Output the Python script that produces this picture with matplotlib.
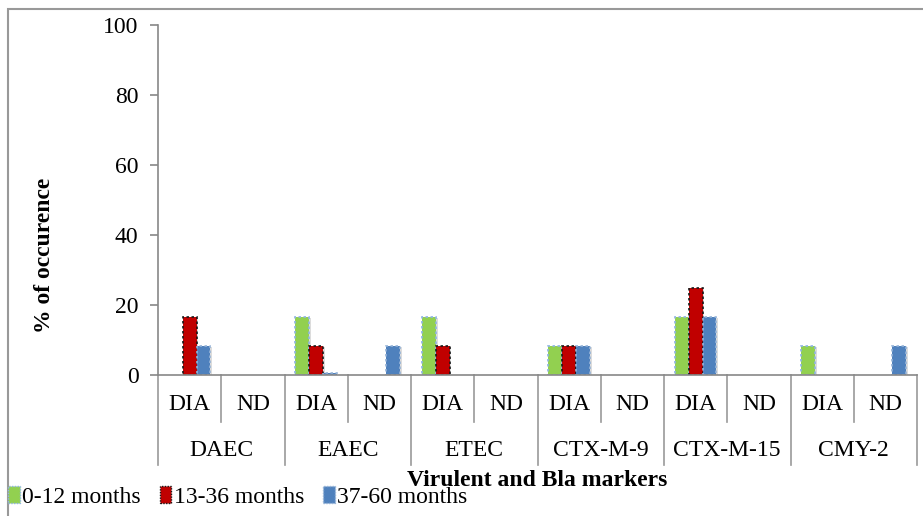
import matplotlib
matplotlib.use("Agg")
import matplotlib.pyplot as plt
import matplotlib.patches as mpatches
import numpy as np

plt.rcParams['font.family'] = ['Liberation Serif', 'DejaVu Serif']

groups = ["DAEC", "EAEC", "ETEC", "CTX-M-9", "CTX-M-15", "CMY-2"]
subcats = ["DIA", "ND"]
series_names = ["0-12 months", "13-36 months", "37-60 months"]
# values per (group, subcat) slot: DAEC-DIA, DAEC-ND, EAEC-DIA, ...
v_0_12 = [0, 0, 16.7, 0, 16.7, 0, 8.3, 0, 16.7, 0, 8.3, 0]
v_13_36 = [16.7, 0, 8.3, 0, 8.3, 0, 8.3, 0, 25.0, 0, 0, 0]
v_37_60 = [8.3, 0, 0.5, 8.3, 0, 0, 8.3, 0, 16.7, 0, 0, 8.3]
yticks = [0, 20, 40, 60, 80, 100]

face = ["#92D050", "#C00000", "#4F81BD"]
edge = ["#8EB4E3", "#1a1a1a", "#95B3D7"]

FS = 17

fig = plt.figure(figsize=(9.23, 5.16), dpi=100)
ax = fig.add_axes([158/923, 1-375/516, (917-158)/923, 350/516])

n = len(v_0_12)
x = np.arange(n)
w = 0.22
allv = [v_0_12, v_13_36, v_37_60]
for i, vals in enumerate(allv):
    vals = np.array(vals, dtype=float)
    keep = vals > 0
    xs = (x + (i - 1) * w)[keep]
    vk = vals[keep]
    # shadow
    ax.bar(xs + 0.03, vk, w, bottom=-0.4, color="#bbbbbb", alpha=0.5, zorder=1, linewidth=0)
    ax.bar(xs, vk, w, color=face[i], edgecolor=edge[i], linewidth=1.2,
           linestyle=(0, (1.5, 1.5)), zorder=2, label=series_names[i])

ax.set_xlim(-0.5, n - 0.5)
ax.set_ylim(0, 100)
ax.set_yticks(yticks)
ax.tick_params(axis='y', length=6, width=1.2, color="#888888", labelsize=FS, pad=8, direction='out')
ax.set_xticks([])
for s in ["top", "right"]:
    ax.spines[s].set_visible(False)
for s in ["left", "bottom"]:
    ax.spines[s].set_color("#888888")
    ax.spines[s].set_linewidth(1.2)

fig.text(45/923, 1-255/516, "% of occurence", rotation=90, ha='center', va='center',
         fontsize=FS, fontweight='bold')

def yax(pix_below):
    return -pix_below / 350.0

trans = ax.get_xaxis_transform()
for k in range(n):
    ax.text(k, yax(30), subcats[k % 2], ha='center', va='center', fontsize=FS,
            transform=trans, clip_on=False)
for g, name in enumerate(groups):
    ax.text(2 * g + 0.5, yax(75), name, ha='center', va='center', fontsize=FS,
            transform=trans, clip_on=False)

# separators
for k in range(n + 1):
    xb = k - 0.5
    if k % 2 == 0:
        ax.plot([xb, xb], [0, yax(90)], color="#999999", lw=1.2, transform=trans, clip_on=False)
    else:
        ax.plot([xb, xb], [0, yax(47)], color="#999999", lw=1.2, transform=trans, clip_on=False)

fig.text(537/923, 1-480/516, "Virulent and Bla markers", ha='center', va='center',
         fontsize=FS, fontweight='bold')

handles = [mpatches.Patch(facecolor=face[i], edgecolor=edge[i], linestyle=(0, (1, 1)),
                          label=series_names[i]) for i in range(3)]
fig.legend(handles=handles, loc='center left', bbox_to_anchor=(8/923, 1-497/516),
           ncol=3, frameon=False, fontsize=FS, handlelength=0.5, handleheight=0.7,
           handletextpad=0.1, columnspacing=0.8, borderaxespad=0, borderpad=0)

# figure border
fig.patches.append(mpatches.Rectangle((8/923, -0.1), 1.1, 1 - 9/516 + 0.1, transform=fig.transFigure,
                                      fill=False, edgecolor="#999999", lw=1.5))

fig.savefig("out.png", dpi=100)
